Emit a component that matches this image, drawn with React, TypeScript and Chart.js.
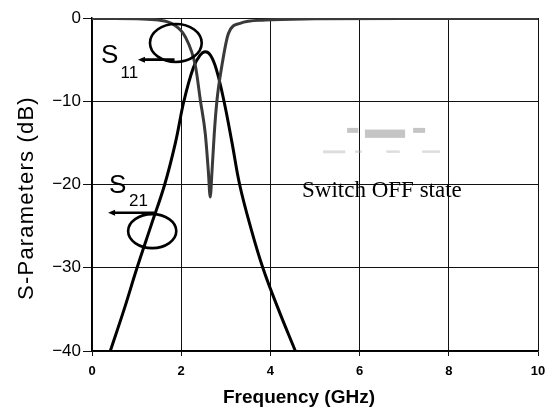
import React, { useEffect, useRef } from "react";
import { Chart, registerables } from "chart.js";

Chart.register(...registerables);

// Frequency (GHz) and S-parameters (dB)
const s11Freq = [0, 0.5, 1.0, 1.49, 1.8, 2.09, 2.32, 2.43, 2.54, 2.61, 2.65, 2.69, 2.74, 2.8, 2.91, 3.06, 3.32, 3.88, 5, 7, 10];
const s11Values = [-0.05, -0.05, -0.1, -0.25, -0.7, -2.25, -5.8, -9.9, -13.9, -18.5, -21.5, -18.5, -14, -10, -5.8, -1.85, -0.64, -0.25, -0.1, -0.05, -0.05];

const s21Freq = [0.41, 0.72, 1.01, 1.32, 1.63, 1.87, 2.06, 2.27, 2.42, 2.54, 2.66, 2.79, 2.96, 3.14, 3.31, 3.55, 3.83, 4.18, 4.56];
const s21Values = [-40, -35, -30, -25, -20, -15, -10, -6, -4.5, -4.05, -4.5, -6.2, -10, -15, -20, -25, -30, -35, -40];

const xTicks = [0, 2, 4, 6, 8, 10];
const yTicks = [0, -10, -20, -30, -40];

const xTitle = "Frequency (GHz)";
const yTitle = "S-Parameters (dB)";
const stateText = "Switch OFF state";

const SANS = "'Liberation Sans', Arial, sans-serif";

function drawArrow(ctx: CanvasRenderingContext2D, x1: number, y1: number, x2: number, y2: number) {
  ctx.lineWidth = 2.6;
  ctx.beginPath();
  ctx.moveTo(x1, y1);
  ctx.lineTo(x2 + 4, y2);
  ctx.stroke();
  ctx.beginPath();
  ctx.moveTo(x2, y2);
  ctx.lineTo(x2 + 7, y2 - 3);
  ctx.lineTo(x2 + 7, y2 + 3);
  ctx.closePath();
  ctx.fill();
}

const annotationPlugin = {
  id: "annotations",
  afterDatasetsDraw(chart: any) {
    const { ctx, scales } = chart;
    const xs = scales.x;
    const ys = scales.y;
    const px = (v: number) => xs.getPixelForValue(v);
    const py = (v: number) => ys.getPixelForValue(v);
    const dx = (v: number) => Math.abs(px(v) - px(0));
    const dy = (v: number) => Math.abs(py(v) - py(0));

    ctx.save();
    ctx.fillStyle = "#000";
    ctx.strokeStyle = "#000";
    ctx.textBaseline = "alphabetic";
    ctx.textAlign = "left";

    // S11 label
    ctx.font = `26px ${SANS}`;
    ctx.fillText("S", px(0.2), py(-5.4));
    ctx.font = `17px ${SANS}`;
    ctx.fillText("11", px(0.64), py(-7.2));
    // S11 ellipse
    ctx.lineWidth = 2.6;
    ctx.beginPath();
    ctx.ellipse(px(1.88), py(-3.0), dx(0.58), dy(2.28), 0, 0, Math.PI * 2);
    ctx.stroke();
    drawArrow(ctx, px(1.85), py(-5.0), px(1.03), py(-5.0));

    // S21 label
    ctx.font = `26px ${SANS}`;
    ctx.fillText("S", px(0.38), py(-21.0));
    ctx.font = `17px ${SANS}`;
    ctx.fillText("21", px(0.83), py(-22.6));
    // S21 ellipse
    ctx.lineWidth = 2.6;
    ctx.beginPath();
    ctx.ellipse(px(1.35), py(-25.6), dx(0.54), dy(2.04), 0, 0, Math.PI * 2);
    ctx.stroke();
    drawArrow(ctx, px(1.4), py(-23.4), px(0.36), py(-23.4));

    // faint scanned smudges
    ctx.fillStyle = "rgba(150,150,150,0.55)";
    ctx.fillRect(px(5.72), py(-13.2), dx(0.25), dy(0.6));
    ctx.fillRect(px(6.12), py(-13.4), dx(0.9), dy(1.0));
    ctx.fillRect(px(7.2), py(-13.2), dx(0.27), dy(0.6));
    ctx.fillStyle = "rgba(170,170,170,0.4)";
    ctx.fillRect(px(5.18), py(-15.9), dx(0.5), dy(0.35));
    ctx.fillRect(px(5.9), py(-15.9), dx(0.15), dy(0.3));
    ctx.fillRect(px(6.6), py(-15.9), dx(0.3), dy(0.3));
    ctx.fillRect(px(7.4), py(-15.9), dx(0.4), dy(0.3));

    // state text
    ctx.fillStyle = "#000";
    ctx.font = `23px 'Liberation Serif', 'Times New Roman', serif`;
    ctx.fillText(stateText, px(4.71), py(-21.45));
    ctx.restore();
  },
  afterDraw(chart: any) {
    const { ctx } = chart;
    ctx.save();
    ctx.fillStyle = "#000";
    ctx.textAlign = "center";
    ctx.textBaseline = "middle";
    ctx.font = `bold 19px ${SANS}`;
    ctx.fillText(xTitle, 299, 398);
    ctx.translate(27, 198);
    ctx.rotate(-Math.PI / 2);
    ctx.font = `22px ${SANS}`;
    try {
      (ctx as any).letterSpacing = "1.2px";
    } catch (e) {}
    ctx.fillText(yTitle, 0, 0);
    ctx.restore();
  },
};

export default function App() {
  const ref = useRef<HTMLCanvasElement | null>(null);

  useEffect(() => {
    if (!ref.current) return;
    const chart = new Chart(ref.current, {
      type: "line",
      data: {
        datasets: [
          {
            label: "S11",
            data: s11Freq.map((f, i) => ({ x: f, y: s11Values[i] })),
            borderColor: "#3a3a3a",
            borderWidth: 3,
            pointRadius: 0,
            cubicInterpolationMode: "monotone",
            fill: false,
          },
          {
            label: "S21",
            data: s21Freq.map((f, i) => ({ x: f, y: s21Values[i] })),
            borderColor: "#000",
            borderWidth: 3,
            pointRadius: 0,
            tension: 0.4,
            fill: false,
          },
        ],
      },
      options: {
        responsive: false,
        animation: false,
        layout: { padding: { left: 0, right: 17, top: 18, bottom: 0 } },
        plugins: {
          legend: { display: false },
          tooltip: { enabled: false },
        },
        scales: {
          x: {
            type: "linear",
            min: 0,
            max: 10,
            afterBuildTicks: (scale: any) => {
              scale.ticks = xTicks.map((v) => ({ value: v }));
            },
            afterFit: (scale: any) => {
              scale.height = 62;
            },
            ticks: {
              padding: 8,
              color: "#000",
              font: { family: SANS, size: 13, weight: "bold" },
              maxRotation: 0,
            },
            grid: { color: "#111", lineWidth: 1, tickLength: 5 },
            border: { color: "#000", width: 1.5 },
          },
          y: {
            type: "linear",
            min: -40,
            max: 0,
            afterBuildTicks: (scale: any) => {
              scale.ticks = yTicks.map((v) => ({ value: v }));
            },
            afterFit: (scale: any) => {
              scale.width = 92;
            },
            ticks: {
              padding: 2,
              color: "#000",
              font: { family: SANS, size: 17 },
              callback: (v: any) => (Number(v) === 0 ? "0" : "\u2212" + Math.abs(Number(v))),
            },
            grid: { color: "#111", lineWidth: 1, tickLength: 9 },
            border: { color: "#000", width: 1.5 },
          },
        },
      },
      plugins: [annotationPlugin],
    } as any);
    return () => chart.destroy();
  }, []);

  return (
    <div style={{ position: "absolute", left: 0, top: 0, width: 555, height: 413, background: "#fff" }}>
      <canvas ref={ref} width={555} height={413} style={{ display: "block" }} />
    </div>
  );
}
